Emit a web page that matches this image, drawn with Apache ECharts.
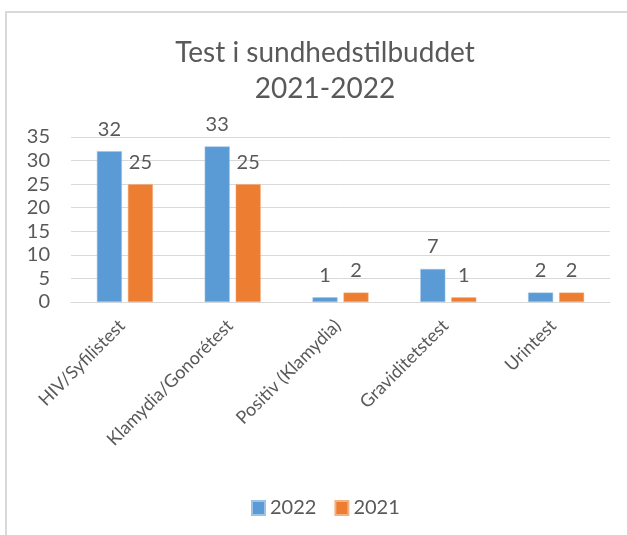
<!DOCTYPE html>
<html><head><meta charset="utf-8">
<script src="https://cdn.jsdelivr.net/npm/echarts@6/dist/echarts.min.js"></script>
<style>html,body{margin:0;padding:0;background:#fff}#c{width:627px;height:535px}</style>
</head><body><div id="c"></div>
<script>
const categories = ['HIV/Syfilistest','Klamydia/Gonorétest','Positiv (Klamydia)','Graviditetstest','Urintest'];
const values2022 = [32, 33, 1, 7, 2];
const values2021 = [25, 25, 2, 1, 2];
const seriesNames = ['2022', '2021'];
const titleLines = ['Test i sundhedstilbuddet', '2021-2022'];

const FONT = 'Lato';
const TXT = '#595959';
const chart = echarts.init(document.getElementById('c'), null, {renderer:'canvas'});
const lbl = {show:true, position:'top', distance:12, color:TXT, fontSize:20, fontFamily:FONT};
chart.setOption({
  animation:false,
  backgroundColor:'#fff',
  graphic:[{type:'rect', shape:{x:6,y:12,width:700,height:600}, style:{fill:'none', stroke:'#d9d9d9', lineWidth:2}, silent:true}],
  title:{text:titleLines.join('\n'), left:320, top:30, textAlign:'center',
    textStyle:{color:TXT, fontSize:28, fontWeight:'normal', fontFamily:FONT, lineHeight:36}},
  legend:{data:seriesNames, left:246, top:493, itemWidth:13, itemHeight:14, itemGap:18,
    textStyle:{color:TXT, fontSize:20, fontFamily:FONT}, icon:'rect'},
  grid:{left:71, right:17, top:137, bottom:233, containLabel:false},
  xAxis:{type:'category', data:categories,
    axisLine:{lineStyle:{color:'#d9d9d9', width:1}}, axisTick:{show:false},
    axisLabel:{rotate:45, color:TXT, fontSize:18, fontFamily:FONT, margin:18, interval:0, padding:[0,4,0,0]}},
  yAxis:{type:'value', min:0, max:35, interval:5,
    axisLine:{show:false}, axisTick:{show:false},
    splitLine:{lineStyle:{color:'#d9d9d9', width:1}},
    axisLabel:{color:TXT, fontSize:20, fontFamily:FONT, margin:21}},
  series:[
    {name:seriesNames[0], type:'bar', data:values2022, barWidth:25, barGap:'24%',
      itemStyle:{color:'#5b9bd5', borderColor:'#9cc3e6', borderWidth:0.5}, label:lbl},
    {name:seriesNames[1], type:'bar', data:values2021, barWidth:25,
      itemStyle:{color:'#ed7d31', borderColor:'#f4b183', borderWidth:0.5}, label:lbl}
  ]
});
</script></body></html>
